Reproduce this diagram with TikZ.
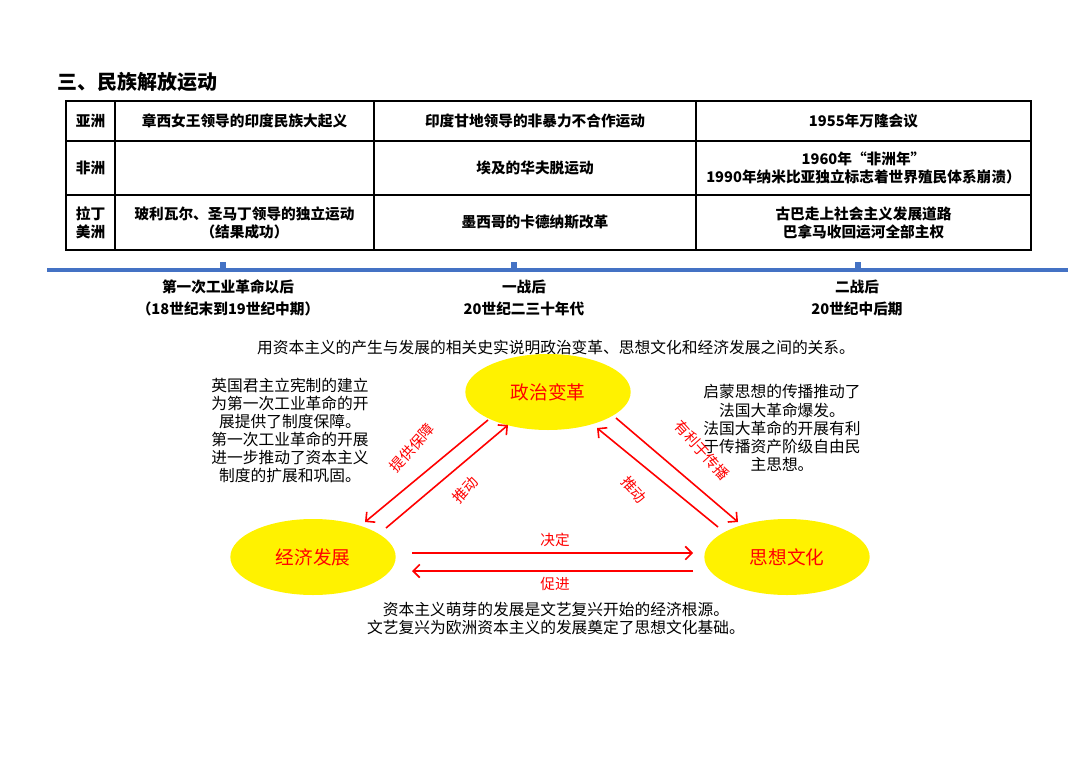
\documentclass[tikz,border=0pt]{standalone}
\usepackage{fontspec}
\setmainfont{Noto Sans CJK SC}
\usetikzlibrary{arrows.meta,shapes.geometric}
\definecolor{tlblue}{RGB}{68,114,196}
\begin{document}
\begin{tikzpicture}[x=0.75pt,y=-0.75pt,
  cell/.style={font=\bfseries\fontsize{11}{13.5}\selectfont,align=center},
  tl/.style={font=\bfseries\fontsize{11}{16}\selectfont,align=center},
  body/.style={font=\fontsize{11.8}{13.6}\selectfont,align=center},
  oval/.style={ellipse,fill=yellow,minimum width=124pt,minimum height=57pt,text=red,font=\fontsize{14}{16}\selectfont},
  rarr/.style={draw=red,line width=1.2pt,-{Straight Barb[length=5pt,width=10pt]}},
  rl/.style={text=red,font=\fontsize{11}{13}\selectfont}]
\useasboundingbox (0,0) rectangle (1080,763);
\node[anchor=west,font=\bfseries\fontsize{15}{17}\selectfont] (title) at (53,82) {三、民族解放运动};
% table
\draw[line width=0.8pt] (66,101) rectangle (1031,250);
\foreach \y in {141,195} \draw[line width=0.8pt] (66,\y) -- (1031,\y);
\foreach \x in {115,374,696} \draw[line width=0.8pt] (\x,101) -- (\x,250);
\node[cell] (a1) at (90.5,121) {亚洲};
\node[cell] (a2) at (244.5,121) {章西女王领导的印度民族大起义};
\node[cell] (a3) at (535,121) {印度甘地领导的非暴力不合作运动};
\node[cell] (a4) at (863.5,121) {1955年万隆会议};
\node[cell] (b1) at (90.5,168) {非洲};
\node[cell] (b3) at (535,168) {埃及的华夫脱运动};
\node[cell] (b4) at (863.5,168) {1960年“非洲年”\\1990年纳米比亚独立标志着世界殖民体系崩溃）};
\node[cell] (c1) at (90.5,222.5) {拉丁\\美洲};
\node[cell] (c2) at (244.5,222.5) {玻利瓦尔、圣马丁领导的独立运动\\（结果成功）};
\node[cell] (c3) at (535,222.5) {墨西哥的卡德纳斯改革};
\node[cell] (c4) at (863.5,222.5) {古巴走上社会主义发展道路\\巴拿马收回运河全部主权};
% timeline
\coordinate (t0) at (47,270); \coordinate (t1) at (1068,270);
\draw[line width=3pt,draw=tlblue] (t0) -- (t1);
\foreach \x in {223,514,858} \fill[tlblue] (\x-3,262) rectangle (\x+3,272);
\node[tl] (p1) at (228,298) {第一次工业革命以后\\（18世纪末到19世纪中期）};
\node[tl] (p2) at (524,298) {一战后\\20世纪二三十年代};
\node[tl] (p3) at (857,298) {二战后\\20世纪中后期};
% question
\node[body] (q) at (556,348) {用资本主义的产生与发展的相关史实说明政治变革、思想文化和经济发展之间的关系。};
\node[oval] (pol) at (548,392) {政治变革};
\node[oval] (eco) at (313,557) {经济发展};
\node[oval] (cul) at (787,557) {思想文化};
\node[body,anchor=north] (lt) at (290,373) {英国君主立宪制的建立\\为第一次工业革命的开\\展提供了制度保障。\\第一次工业革命的开展\\进一步推动了资本主义\\制度的扩展和巩固。};
\node[body,anchor=north] (rt) at (782,380) {启蒙思想的传播推动了\\法国大革命爆发。\\法国大革命的开展有利\\于传播资产阶级自由民\\主思想。};
\node[body,anchor=north] (bt) at (556,597) {资本主义萌芽的发展是文艺复兴开始的经济根源。\\文艺复兴为欧洲资本主义的发展奠定了思想文化基础。};
% arrows
\coordinate (l1s) at (488,420); \coordinate (l1e) at (365,522);
\coordinate (l2s) at (386,528); \coordinate (l2e) at (508,425);
\coordinate (r1s) at (616,418); \coordinate (r1e) at (738,522);
\coordinate (r2s) at (718,527); \coordinate (r2e) at (597,428);
\coordinate (h1s) at (412,553); \coordinate (h1e) at (693,553);
\coordinate (h2s) at (693,571); \coordinate (h2e) at (412,571);
\draw[rarr] (l1s) -- (l1e);
\draw[rarr] (l2s) -- (l2e);
\draw[rarr] (r1s) -- (r1e);
\draw[rarr] (r2s) -- (r2e);
\draw[rarr] (h1s) -- (h1e);
\draw[rarr] (h2s) -- (h2e);
\node[rl,rotate=48] (k1) at (412,448) {提供保障};
\node[rl,rotate=48] (k2) at (465,490) {推动};
\node[rl,rotate=-48] (k3) at (702,450) {有利于传播};
\node[rl,rotate=-48] (k4) at (634,490) {推动};
\node[rl] (k5) at (555,540) {决定};
\node[rl] (k6) at (555,584) {促进};
\end{tikzpicture}
\end{document}
